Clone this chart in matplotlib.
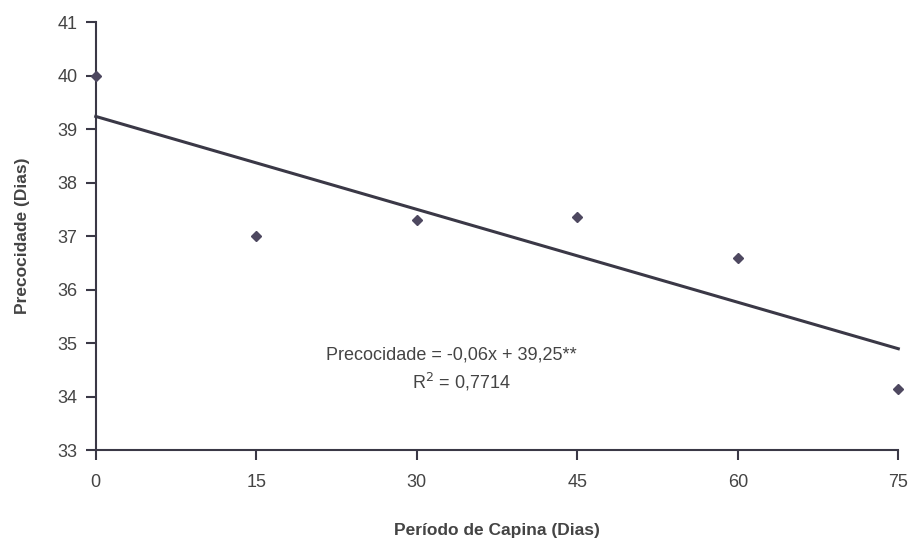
import matplotlib.pyplot as plt
import numpy as np

plt.rcParams['font.family'] = ['Liberation Sans', 'DejaVu Sans']

periodo = [0, 15, 30, 45, 60, 75]
precocidade = [40.0, 37.0, 37.3, 37.35, 36.6, 34.15]
xticks = [0, 15, 30, 45, 60, 75]
yticks = [33, 34, 35, 36, 37, 38, 39, 40, 41]

coef = np.polyfit(periodo, precocidade, 1)
xl = np.array([periodo[0], periodo[-1]])

fig = plt.figure(figsize=(9.12, 5.41), dpi=100)
ax = fig.add_axes([0.105, 0.168, 0.88, 0.791])

ax.plot(periodo, precocidade, 'D', color='#4e4860', ms=5, clip_on=False, zorder=3)
ax.plot(xl, np.polyval(coef, xl), color='#3a3846', lw=2.2, clip_on=False)

ax.set_xlim(0, 75)
ax.set_ylim(33, 41)
ax.set_xticks(xticks)
ax.set_yticks(yticks)
for s in ['top', 'right']:
    ax.spines[s].set_visible(False)
for s in ['left', 'bottom']:
    ax.spines[s].set_color('#3a3846')
    ax.spines[s].set_linewidth(1.5)
ax.tick_params(colors='#3a3846', labelcolor='#444444', labelsize=13, width=1.5, length=7, pad=6)
ax.tick_params(axis='x', pad=10)

ax.set_ylabel('Precocidade (Dias)', fontsize=12.5, fontweight='bold', color='#444444', labelpad=20)
ax.set_xlabel('Período de Capina (Dias)', fontsize=12.5, fontweight='bold', color='#444444', labelpad=23)

ax.text(33.2, 34.78, 'Precocidade = -0,06x + 39,25**', fontsize=13, color='#444444', ha='center', va='center')
ax.text(34.2, 34.27, 'R$^2$ = 0,7714', fontsize=13, color='#444444', ha='center', va='center')

fig.savefig('out.png', dpi=100, facecolor='white')
